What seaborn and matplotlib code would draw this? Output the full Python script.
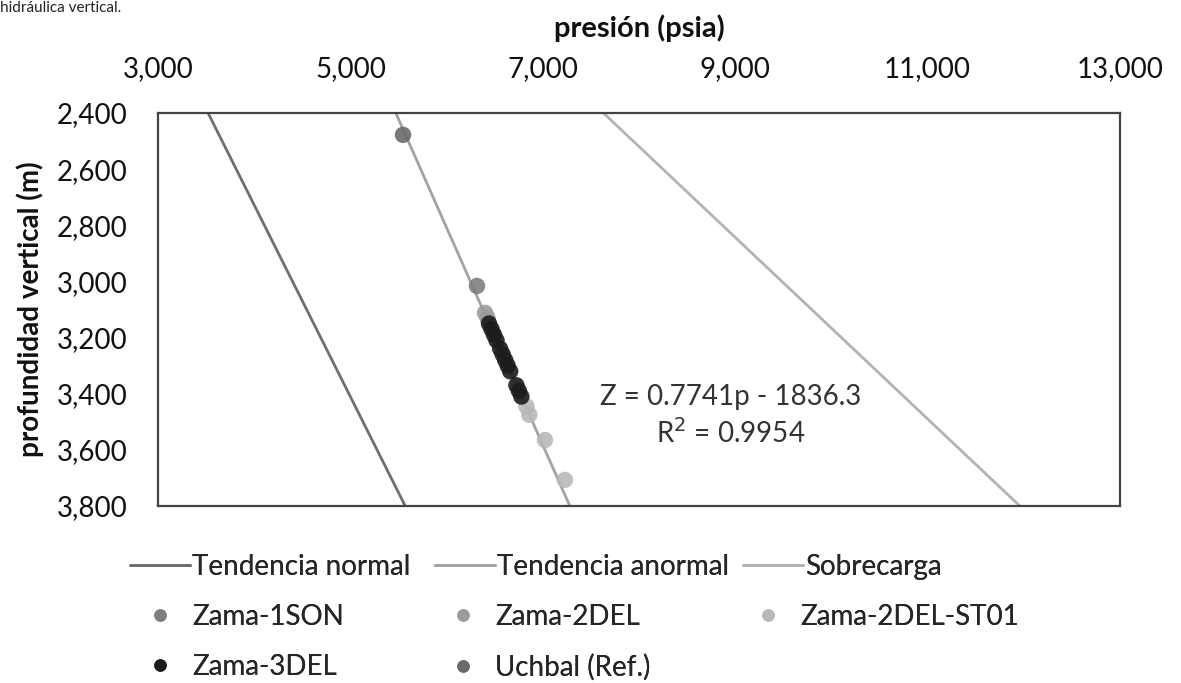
import numpy as np
import pandas as pd
import matplotlib
matplotlib.use('Agg')
import matplotlib.pyplot as plt
from matplotlib.ticker import FuncFormatter, MultipleLocator
from matplotlib.lines import Line2D
import seaborn as sns

# trend lines (presion psia vs profundidad m)
tendencias = ['Tendencia normal', 'Tendencia anormal', 'Sobrecarga']
prof_lineas = [2400, 3800]
p_normal = [3520, 5570]
p_anormal = [5472, 7281]
p_sobrecarga = [7630, 11960]
colores_lineas = ['#6f6f6f', '#a3a3a3', '#b3b3b3']

# pozos (puntos medidos)
pozos = ['Zama-1SON', 'Zama-2DEL', 'Zama-2DEL-ST01', 'Zama-3DEL', 'Uchbal (Ref.)']
colores_pozos = ['#7e7e7e', '#9c9c9c', '#b8b8b8', '#1c1c1c', '#6a6a6a']
p_1son = [6316]
z_1son = [3016]
p_2del = [6400, 6425]
z_2del = [3112, 3130]
p_st01 = [6830, 6860, 7023, 7230]
z_st01 = [3445, 3475, 3565, 3707]
p_3del = [6441, 6467, 6493, 6519, 6557, 6583, 6609, 6635, 6661, 6726, 6752, 6777]
z_3del = [3150, 3170, 3190, 3210, 3240, 3260, 3280, 3300, 3320, 3370, 3390, 3410]
p_uchbal = [5547]
z_uchbal = [2478]

ticks_p = [3000, 5000, 7000, 9000, 11000, 13000]
ecuacion = 'Z = 0.7741p - 1836.3\nR$^2$ = 0.9954'

sns.set_theme(style='white')
plt.rcParams['font.family'] = ['Lato', 'DejaVu Sans']

lineas = pd.DataFrame({
    'p': p_normal + p_anormal + p_sobrecarga,
    'z': prof_lineas * 3,
    'serie': [t for t in tendencias for _ in prof_lineas],
})
puntos = pd.DataFrame({
    'p': p_1son + p_2del + p_st01 + p_3del + p_uchbal,
    'z': z_1son + z_2del + z_st01 + z_3del + z_uchbal,
    'pozo': (['Zama-1SON'] * len(p_1son) + ['Zama-2DEL'] * len(p_2del)
             + ['Zama-2DEL-ST01'] * len(p_st01) + ['Zama-3DEL'] * len(p_3del)
             + ['Uchbal (Ref.)'] * len(p_uchbal)),
})

fig = plt.figure(figsize=(11.81, 6.83), dpi=100)
ax = fig.add_axes([0.1338, 0.2591, 0.8145, 0.5755])

sns.lineplot(data=lineas, x='p', y='z', hue='serie', palette=dict(zip(tendencias, colores_lineas)),
             sort=False, estimator=None, linewidth=2, legend=False, ax=ax)
sns.scatterplot(data=puntos, x='p', y='z', hue='pozo', palette=dict(zip(pozos, colores_pozos)),
                s=140, edgecolor='none', alpha=0.9, legend=False, ax=ax, zorder=3)

ax.set_xlim(3000, 13000)
ax.set_ylim(3800, 2400)
ax.set_xticks(ticks_p)
ax.yaxis.set_major_locator(MultipleLocator(200))
fmt = FuncFormatter(lambda v, _: f'{v:,.0f}')
ax.xaxis.set_major_formatter(fmt)
ax.yaxis.set_major_formatter(fmt)
ax.xaxis.tick_top()
ax.xaxis.set_label_position('top')
ax.tick_params(axis='both', length=0, labelsize=20, colors='#111111')
ax.tick_params(axis='x', pad=22)
ax.tick_params(axis='y', pad=22)
ax.set_xlabel('presión (psia)', fontsize=21, fontweight='bold', color='#111111', va='center')
ax.set_ylabel('profundidad vertical (m)', fontsize=20, fontweight='bold', color='#111111', va='center')
ax.xaxis.set_label_coords(0.5, 1.216)
ax.yaxis.set_label_coords(-0.133, 0.5)
for s in ax.spines.values():
    s.set_color('#444444')
    s.set_linewidth(1.6)

ax.text(8950, 3480, ecuacion, ha='center', va='center', fontsize=20, color='#333333', linespacing=1.35)

# caption cut off at the top of the scan
fig.text(0.0, 0.999, 'hidráulica vertical.', fontsize=11, va='top', color='#222222')

# legend: one entry per slot to follow the Excel layout
leg_kw = dict(frameon=False, fontsize=20, borderpad=0, borderaxespad=0, loc='center left')
x_lineas = [130, 435, 743]
for nombre, color, x0 in zip(tendencias, colores_lineas, x_lineas):
    h = Line2D([], [], color=color, lw=2)
    fig.add_artist(fig.legend([h], [nombre], bbox_to_anchor=(x0 / 1181, 0.170),
                              handlelength=2.16, handletextpad=0.08, **leg_kw))

pos_pozos = [(146, 0.0966), (449, 0.0966), (754, 0.0966), (146, 0.0234), (449, 0.0234)]
for nombre, color, (x0, y0) in zip(pozos, colores_pozos, pos_pozos):
    h = Line2D([], [], marker='o', ls='', markersize=9, markerfacecolor=color, markeredgecolor='none')
    fig.add_artist(fig.legend([h], [nombre], bbox_to_anchor=(x0 / 1181, y0),
                              handlelength=1.0, handletextpad=0.65, **leg_kw))

fig.savefig('out.png', dpi=100)
